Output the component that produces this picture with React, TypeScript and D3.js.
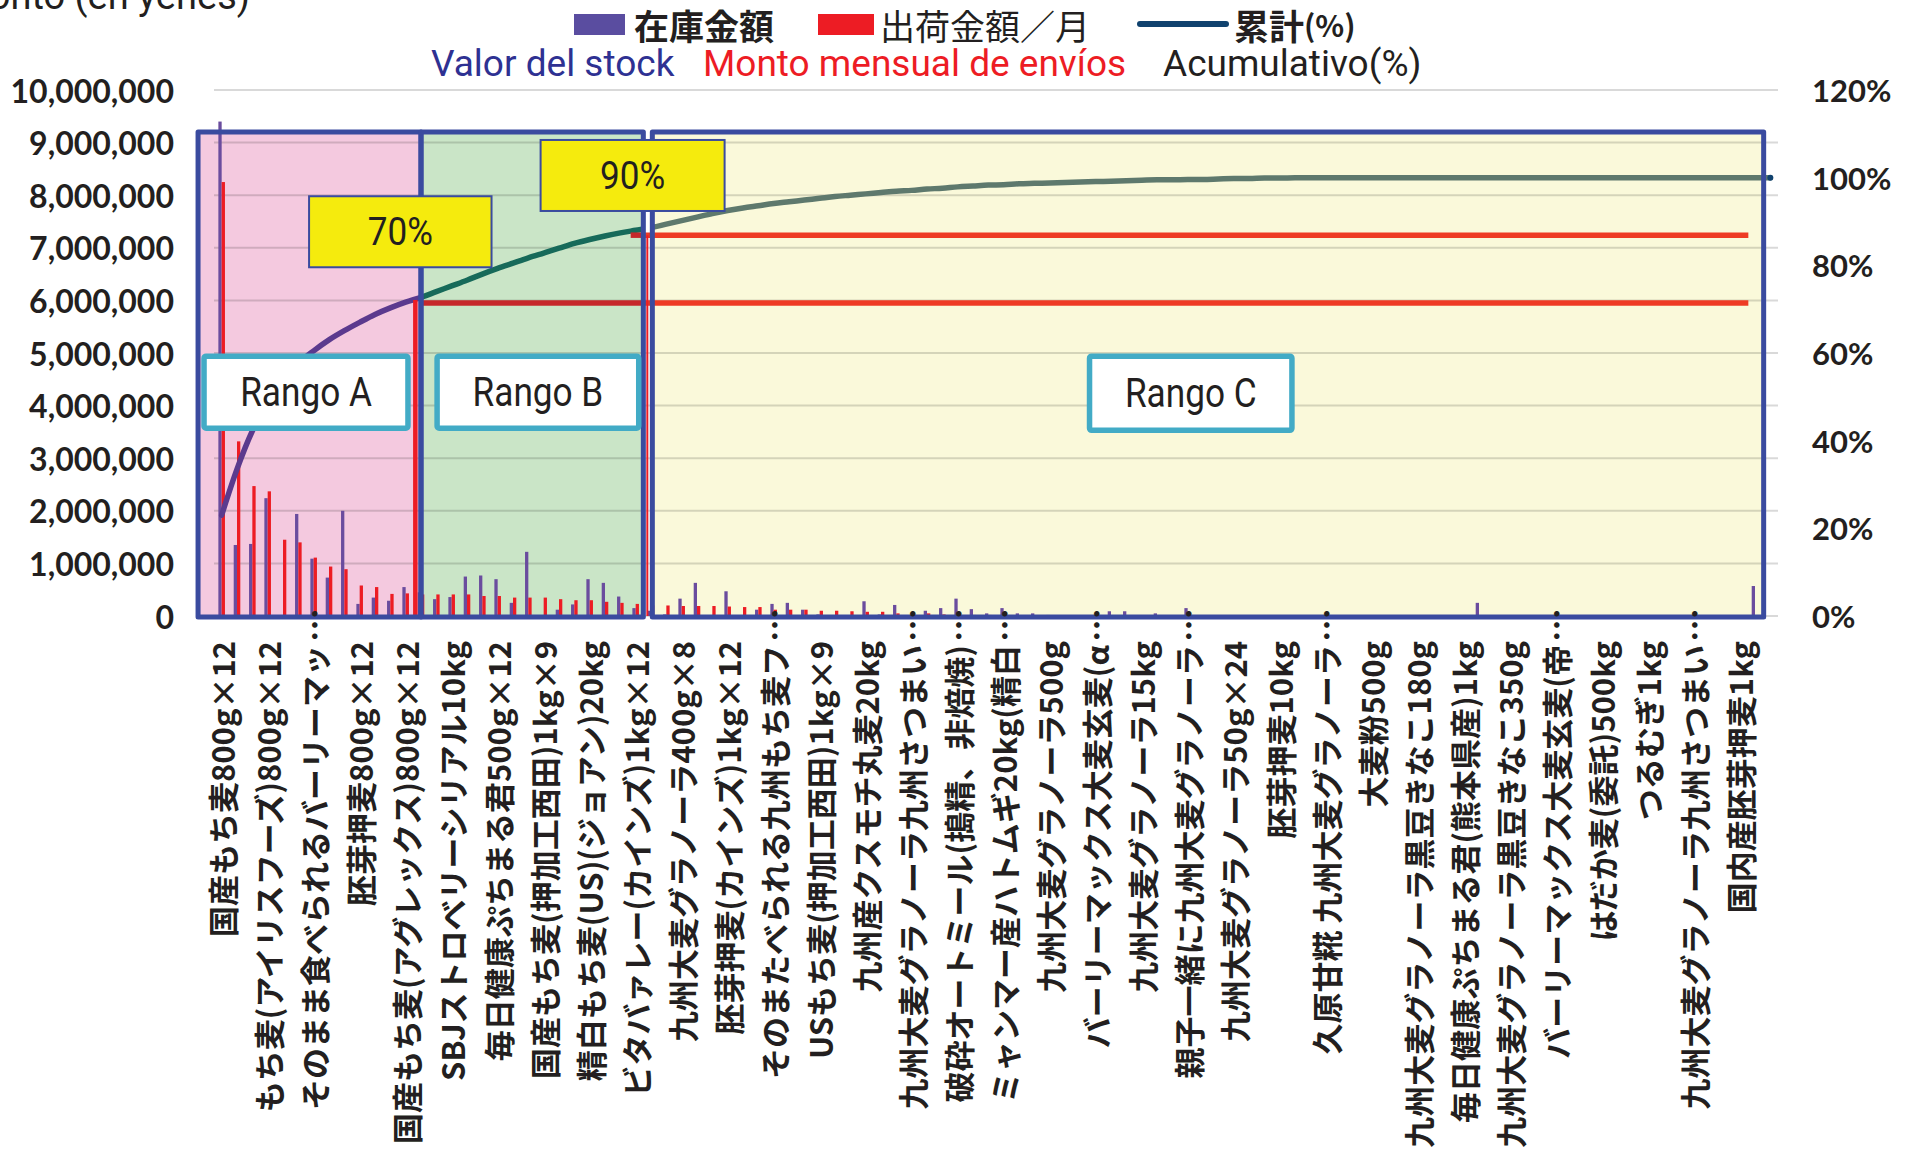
import React, { useEffect } from "react";
import * as d3 from "d3";

// every 3rd category carries a label on the x axis
const tickLabels = [
  "国産もち麦800g×12",
  "もち麦(アイリスフーズ)800g×12",
  "そのまま食べられるバーリーマッ…",
  "胚芽押麦800g×12",
  "国産もち麦(アグレックス)800g×12",
  "SBJストロベリーシリアル10kg",
  "毎日健康ぷちまる君500g×12",
  "国産もち麦(押加工西田)1kg×9",
  "精白もち麦(US)(ジョアン)20kg",
  "ビタバァレー(カインズ)1kg×12",
  "九州大麦グラノーラ400g×8",
  "胚芽押麦(カインズ)1kg×12",
  "そのまたべられる九州もち麦フ…",
  "USもち麦(押加工西田)1kg×9",
  "九州産クスモチ丸麦20kg",
  "九州大麦グラノーラ九州さつまい…",
  "破砕オートミール(搗精、非焙焼)…",
  "ミャンマー産ハトムギ20kg(精白…",
  "九州大麦グラノーラ500g",
  "バーリーマックス大麦玄麦(α…",
  "九州大麦グラノーラ15kg",
  "親子一緒に九州大麦グラノーラ…",
  "九州大麦グラノーラ50g×24",
  "胚芽押麦10kg",
  "久原甘糀 九州大麦グラノーラ…",
  "大麦粉500g",
  "九州大麦グラノーラ黒豆きなこ180g",
  "毎日健康ぷちまる君(熊本県産)1kg",
  "九州大麦グラノーラ黒豆きなこ350g",
  "バーリーマックス大麦玄麦(帝…",
  "はだか麦(委託)500kg",
  "つるむぎ1kg",
  "九州大麦グラノーラ九州さつまい…",
  "国内産胚芽押麦1kg",
];

// 在庫金額 (stock value, yen) per item
const stockValues = [
  9400000, 1350000, 1370000, 2240000, 0, 1940000, 1090000, 730000, 2000000, 230000,
  350000, 290000, 550000, 450000, 320000, 360000, 750000, 770000, 700000, 250000,
  1220000, 0, 120000, 220000, 700000, 630000, 370000, 150000, 100000, 30000,
  330000, 630000, 10000, 470000, 0, 120000, 230000, 250000, 120000, 30000,
  10000, 0, 280000, 30000, 210000, 0, 100000, 150000, 330000, 130000,
  50000, 150000, 50000, 50000, 20000, 0, 0, 0, 90000, 90000,
  10000, 50000, 0, 150000, 0, 10000, 0, 0, 0, 0,
  0, 0, 0, 0, 0, 0, 0, 0, 0, 0,
  0, 0, 250000, 0, 0, 0, 0, 0, 0, 0,
  0, 0, 0, 0, 0, 0, 0, 0, 0, 0,
  570000, 0,
];

// 出荷金額／月 (monthly shipments, yen) per item
const shipValues = [
  8250000, 3320000, 2470000, 2370000, 1450000, 1400000, 1110000, 940000, 890000, 580000,
  550000, 420000, 430000, 410000, 410000, 410000, 410000, 380000, 380000, 350000,
  350000, 350000, 320000, 300000, 300000, 270000, 250000, 230000, 200000, 200000,
  190000, 190000, 190000, 180000, 170000, 170000, 120000, 120000, 120000, 100000,
  100000, 90000, 80000, 80000, 50000, 50000, 50000, 30000, 30000, 20000,
  20000, 10000, 0, 0, 0, 0, 0, 0, 0, 0,
  0, 0, 0, 0, 0, 0, 0, 0, 0, 0,
  0, 0, 0, 0, 0, 0, 0, 0, 0, 0,
  0, 0, 0, 0, 0, 0, 0, 0, 0, 0,
  0, 0, 0, 0, 0, 0, 0, 0, 0, 0,
  0, 0,
];

// 累計(%)
const cumulativePct = [
  23.0, 33.5, 42.2, 48.5, 53.5, 57.6, 60.5, 63.0, 65.1, 67.0,
  68.8, 70.3, 71.6, 72.7, 74.0, 75.3, 76.6, 78.0, 79.3, 80.5,
  81.7, 82.8, 83.9, 85.0, 85.9, 86.7, 87.4, 88.0, 88.6, 89.4,
  90.2, 91.0, 91.8, 92.5, 93.1, 93.6, 94.1, 94.5, 94.9, 95.3,
  95.7, 96.0, 96.3, 96.6, 96.9, 97.1, 97.4, 97.6, 97.9, 98.1,
  98.3, 98.4, 98.6, 98.7, 98.8, 98.9, 99.0, 99.1, 99.2, 99.3,
  99.4, 99.5, 99.5, 99.6, 99.6, 99.7, 99.8, 99.8, 99.9, 99.9,
  100, 100, 100, 100, 100, 100, 100, 100, 100, 100,
  100, 100, 100, 100, 100, 100, 100, 100, 100, 100,
  100, 100, 100, 100, 100, 100, 100, 100, 100, 100,
  100, 100,
];

const leftTicks = [0, 1000000, 2000000, 3000000, 4000000, 5000000, 6000000, 7000000, 8000000, 9000000, 10000000];
const rightTicks = [0, 20, 40, 60, 80, 100, 120];

// range limits (category index) and the marker levels
const rangeAEnd = 13;
const rangeBEnd = 28;
const markerLow = 5950000;
const markerHigh = 7240000;

const W = 1907;
const H = 1163;
const plotLeft = 214;
const plotRight = 1778;
const yTop = 90;
const yBottom = 616;

const PURPLE = "#6A4C9E";
const RED = "#ED1C24";
const BORDER = "#3A4B9F";
const CYAN = "#42ABC6";
const JP = "'Noto Sans CJK JP', sans-serif";
const LAT = "Roboto, 'Open Sans', sans-serif";
const NUM = "Lato, 'Liberation Sans', sans-serif";

export default function App() {
  useEffect(() => {
    document.body.style.margin = "0";
    document.body.style.overflow = "hidden";
  }, []);

  const n = stockValues.length;
  const x = d3.scaleBand<number>().domain(d3.range(n)).range([plotLeft, plotRight]);
  const bw = x.bandwidth();
  const cx = (i: number) => (x(i) as number) + bw / 2;
  const pos = (p: number) => plotLeft + p * bw; // fractional category position
  const sub = d3.scaleBand<string>().domain(["stock", "ship"]).range([-3.3, 3.3]);

  const y = d3.scaleLinear().domain([0, 10000000]).range([yBottom, yTop]);
  const yPct = d3.scaleLinear().domain([0, 120]).range([yBottom, yTop]);

  const line = d3
    .line<number>()
    .x((d, i) => cx(i))
    .y((d) => yPct(d))
    .curve(d3.curveMonotoneX);
  const linePath = line(cumulativePct) as string;

  const boxTop = y(9200000);
  const boxBottom = y(0) + 1;
  const regions = [
    { key: "A", x1: pos(-1.04), x2: pos(rangeAEnd + 0.5), fill: "#F4C9DF" },
    { key: "B", x1: pos(rangeAEnd + 0.5), x2: pos(rangeBEnd), fill: "#CAE5C7" },
    { key: "C", x1: pos(rangeBEnd) + 9, x2: pos(n - 1) + 1, fill: "#FAF9DA" },
  ];
  const lineColors = ["#5B3A8E", "#176A5A", "#5E796D"];

  const yellowBox = (p1: number, p2: number, v1: number, v2: number, label: string) => (
    <g key={label}>
      <rect x={pos(p1)} y={y(v1)} width={pos(p2) - pos(p1)} height={y(v2) - y(v1)}
        fill="#F5EB0D" stroke={BORDER} strokeWidth={2} />
      <text transform={`translate(${(pos(p1) + pos(p2)) / 2},${(y(v1) + y(v2)) / 2}) scale(0.9,1)`} textAnchor="middle"
        dominantBaseline="central" fontFamily={LAT} fontSize={39} fill="#231F20">{label}</text>
    </g>
  );
  const rangeBox = (p1: number, p2: number, v1: number, v2: number, label: string) => (
    <g key={label}>
      <rect x={pos(p1)} y={y(v1)} width={pos(p2) - pos(p1)} height={y(v2) - y(v1)}
        fill="#FFFFFF" stroke={CYAN} strokeWidth={5.5} rx={2} />
      <text transform={`translate(${(pos(p1) + pos(p2)) / 2},${(y(v1) + y(v2)) / 2}) scale(0.88,1)`} textAnchor="middle"
        dominantBaseline="central" fontFamily={LAT} fontSize={40} fill="#231F20">{label}</text>
    </g>
  );

  const labelTop = 641;

  return (
    <svg width={W} height={H} style={{ position: "absolute", left: 0, top: 0, background: "#fff" }}>
      <defs>
        {regions.map((r, k) => (
          <clipPath id={`clip-${r.key}`} key={r.key}>
            <rect x={k === 0 ? 0 : r.x1} y={0} width={k === 2 ? W : r.x2 - (k === 0 ? 0 : r.x1)} height={H} />
          </clipPath>
        ))}
      </defs>

      {/* top-left axis title, mostly cut off */}
      <text x={250} y={9} textAnchor="end" fontFamily={LAT} fontSize={38} fill="#231F20">Monto (en yenes)</text>

      {/* legend */}
      <g>
        <rect x={574} y={14} width={51} height={21} fill="#5A4DA0" />
        <text x={634} y={24} dominantBaseline="central" fontFamily={JP} fontWeight={700} fontSize={35} fill="#231F20">在庫金額</text>
        <rect x={818} y={14} width={56} height={21} fill={RED} />
        <text x={880} y={24} dominantBaseline="central" fontFamily={JP} fontSize={35} fill="#231F20">出荷金額／月</text>
        <line x1={1140} x2={1226} y1={24} y2={24} stroke="#10426E" strokeWidth={6} strokeLinecap="round" />
        <text x={1234} y={24} dominantBaseline="central" fontFamily={JP} fontWeight={700} fontSize={35} fill="#231F20">
          累計<tspan fontSize={30}>(%)</tspan>
        </text>
        <text x={431} y={63} dominantBaseline="central" fontFamily={LAT} fontSize={37} fill="#2E3192">Valor del stock</text>
        <text x={703} y={63} dominantBaseline="central" fontFamily={LAT} fontSize={37} fill={RED}>Monto mensual de envíos</text>
        <text x={1163} y={63} dominantBaseline="central" fontFamily={LAT} fontSize={37} fill="#231F20">Acumulativo(%)</text>
      </g>

      {/* region fills */}
      {regions.map((r) => (
        <rect key={r.key} x={r.x1} y={boxTop} width={r.x2 - r.x1} height={boxBottom - boxTop} fill={r.fill} />
      ))}

      {/* gridlines */}
      {leftTicks.map((v) => (
        <line key={v} x1={plotLeft} x2={plotRight} y1={y(v)} y2={y(v)} stroke="#000" strokeOpacity={0.15} strokeWidth={2} />
      ))}

      {/* axis labels */}
      {leftTicks.map((v) => (
        <text key={v} x={174} y={y(v)} textAnchor="end" dominantBaseline="central"
          fontFamily={NUM} fontWeight={700} fontSize={32} fill="#231F20">{d3.format(",")(v)}</text>
      ))}
      {rightTicks.map((v) => (
        <text key={v} x={1812} y={yPct(v)} textAnchor="start" dominantBaseline="central"
          fontFamily={NUM} fontWeight={700} fontSize={31} fill="#231F20">{v}%</text>
      ))}

      {/* bars */}
      {stockValues.map((v, i) => v > 0 && (
        <rect key={`s${i}`} x={cx(i) + (sub("stock") as number)} y={y(v)} width={sub.bandwidth()} height={y(0) - y(v)} fill={PURPLE} />
      ))}
      {shipValues.map((v, i) => v > 0 && (
        <rect key={`r${i}`} x={cx(i) + (sub("ship") as number)} y={y(v)} width={sub.bandwidth()} height={y(0) - y(v)} fill={RED} />
      ))}

      {/* cumulative line, coloured per range */}
      {regions.map((r, k) => (
        <path key={r.key} d={linePath} fill="none" stroke={lineColors[k]} strokeWidth={5.5}
          strokeLinecap="round" strokeLinejoin="round" clipPath={`url(#clip-${r.key})`} />
      ))}
      <circle cx={cx(n - 1)} cy={yPct(cumulativePct[n - 1])} r={3} fill="#10426E" />

      {/* 70% / 90% markers */}
      <line x1={pos(rangeAEnd) + 2} x2={pos(rangeAEnd) + 2} y1={y(0)} y2={y(markerLow) - 3} stroke={RED} strokeWidth={4.5} />
      <line x1={pos(rangeAEnd + 0.5)} x2={pos(rangeBEnd)} y1={y(markerLow)} y2={y(markerLow)} stroke="#C6282B" strokeWidth={5.5} />
      <line x1={pos(rangeBEnd)} x2={pos(n - 2) + 1} y1={y(markerLow)} y2={y(markerLow)} stroke="#EE3B24" strokeWidth={5.5} />
      <line x1={cx(rangeBEnd - 1) - 5} x2={pos(rangeBEnd)} y1={y(markerHigh)} y2={y(markerHigh)} stroke="#C6282B" strokeWidth={5.5} />
      <line x1={pos(rangeBEnd)} x2={pos(n - 2) + 1} y1={y(markerHigh)} y2={y(markerHigh)} stroke="#EE3B24" strokeWidth={5.5} />
      <line x1={pos(rangeBEnd) + 4} x2={pos(rangeBEnd) + 4} y1={y(0)} y2={y(markerHigh)} stroke={RED} strokeWidth={2} />

      {/* region borders */}
      {regions.map((r) => (
        <rect key={r.key} x={r.x1} y={boxTop} width={r.x2 - r.x1} height={boxBottom - boxTop}
          fill="none" stroke={BORDER} strokeWidth={5} strokeLinejoin="round" />
      ))}

      {yellowBox(21.3, 33.3, 9050000, 7700000, "90%")}
      {yellowBox(6.2, 18.1, 7980000, 6630000, "70%")}
      {rangeBox(-0.65, 12.65, 4940000, 3570000, "Rango A")}
      {rangeBox(14.55, 27.7, 4940000, 3570000, "Rango B")}
      {rangeBox(57.1, 70.3, 4940000, 3530000, "Rango C")}

      {/* category labels */}
      {tickLabels.map((t, k) => {
        const i = k * 3;
        const ell = t.endsWith("…");
        const main = ell ? t.slice(0, -1) : t;
        return (
          <g key={k} transform={`translate(${cx(i)},0)`}>
            <text transform={`translate(0,${ell ? labelTop + 4 : labelTop}) rotate(-90)`} textAnchor="end"
              dominantBaseline="central" fontFamily={JP} fontWeight={700} fontSize={31} fill="#231F20">{main}</text>
            {ell && (
              <text transform={`translate(0,${labelTop + 1}) rotate(-90)`} textAnchor="start"
                dominantBaseline="central" fontFamily={JP} fontWeight={700} fontSize={34} fill="#231F20">…</text>
            )}
          </g>
        );
      })}
    </svg>
  );
}
